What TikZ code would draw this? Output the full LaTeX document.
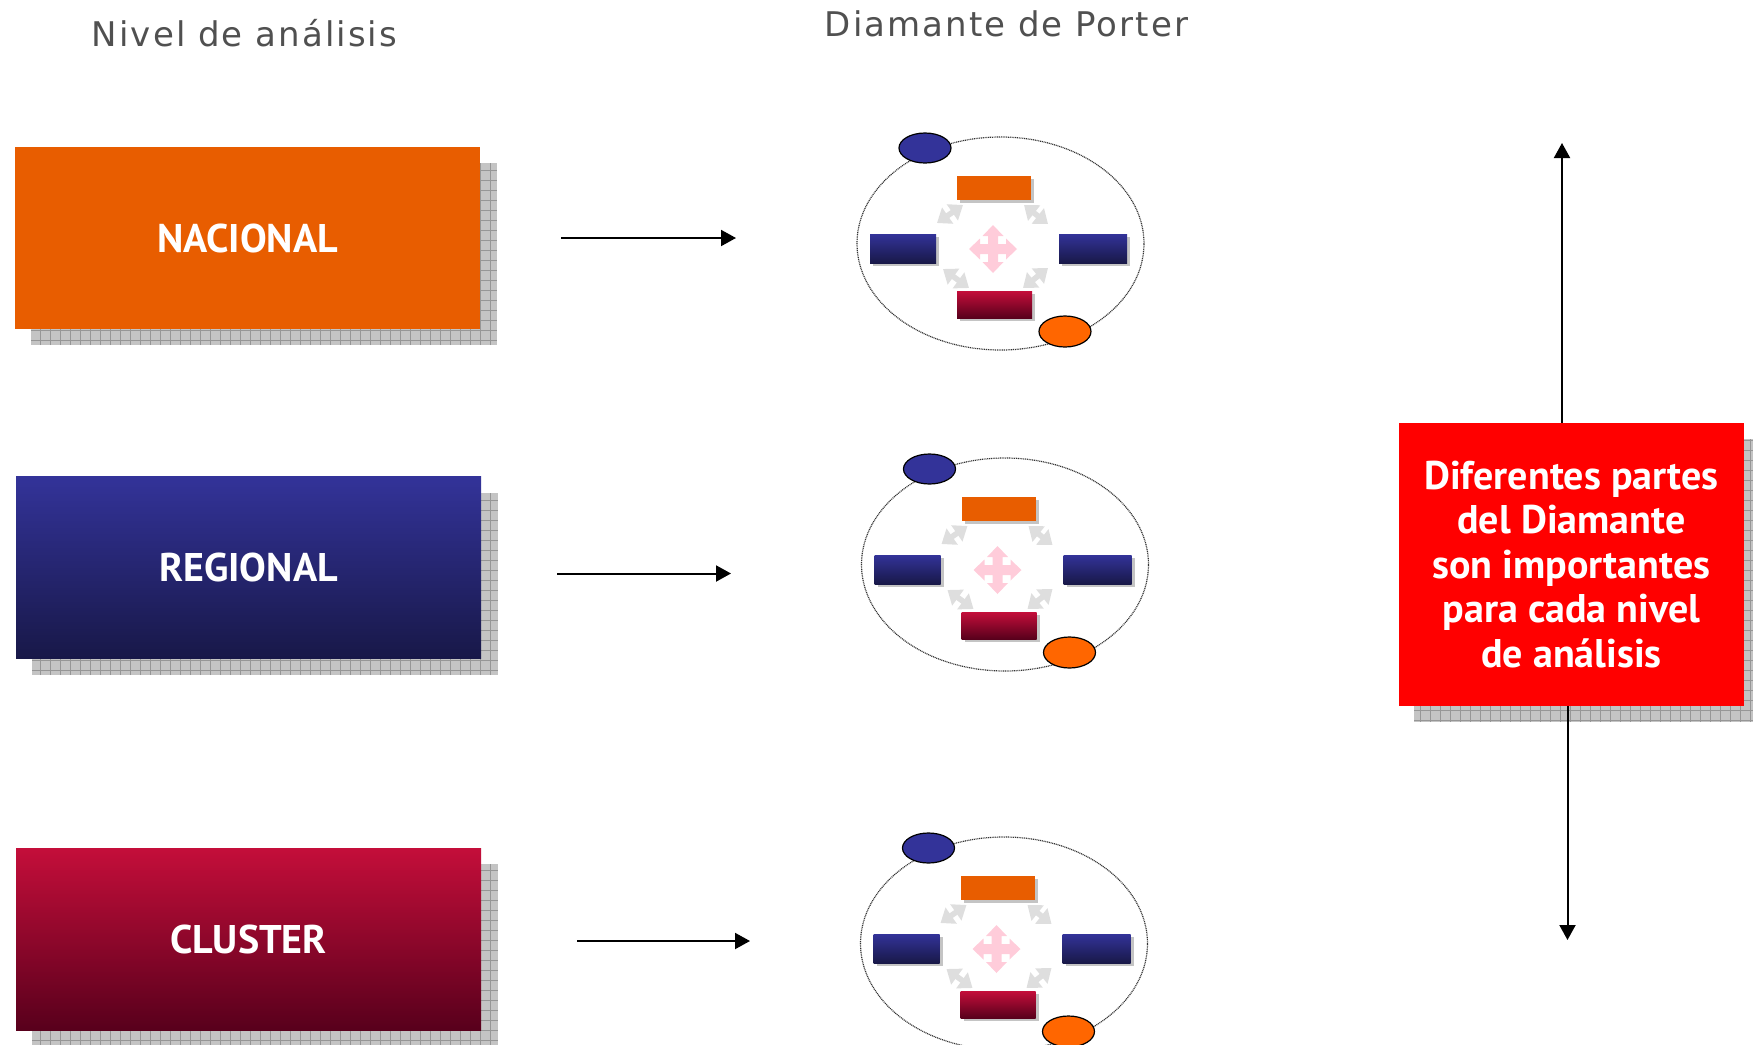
\documentclass[tikz,border=0pt]{standalone}
\usepackage{fontspec}
\setmainfont{PT Sans}
\newfontfamily\titlefont[LetterSpace=6]{DejaVu Sans}
\usetikzlibrary{arrows.meta,shapes.geometric}
\definecolor{orangeN}{RGB}{232,93,0}
\definecolor{orangeE}{RGB}{255,102,0}
\definecolor{blueT}{RGB}{51,51,153}
\definecolor{blueM}{RGB}{40,40,118}
\definecolor{blueB}{RGB}{24,24,72}
\definecolor{redT}{RGB}{196,14,58}
\definecolor{redM}{RGB}{165,0,50}
\definecolor{redB}{RGB}{88,0,28}
\definecolor{titlegray}{RGB}{80,80,80}
\definecolor{shadowfill}{RGB}{196,196,196}
\definecolor{shadowgrid}{RGB}{150,150,150}
\definecolor{pinkc}{RGB}{255,204,218}
\definecolor{lightarrow}{RGB}{222,222,222}
\definecolor{boxred}{RGB}{255,0,0}
\tikzset{
  bigbox/.style={inner sep=0pt, minimum width=232.5pt, minimum height=91pt,
    text=white, font=\bfseries\fontsize{20}{24}\selectfont},
  titletext/.style={text=titlegray, font=\titlefont\fontsize{17}{20}\selectfont, anchor=base, inner sep=0pt},
  conn/.style={line width=1pt, -{Triangle[length=7.5pt,width=8pt]}},
  smallrect/.style={inner sep=0pt, minimum width=#1, minimum height=13pt},
  graydbl/.style={line width=2.8pt, draw=lightarrow,
    {Triangle[length=6.5pt,width=9.5pt]}-{Triangle[length=6.5pt,width=9.5pt]}},
  porter/.pic={
    \node[ellipse, draw=black!80, line width=0.6pt, dash pattern=on 0.5pt off 0.4pt,
      minimum width=143.5pt, minimum height=106.5pt, inner sep=0pt] (-big) at (0,0) {};
    % small rect shadows
    \fill[shadowfill] (-40.5,-64.5) rectangle (33.5,-40.5);
    \fill[shadowfill] (-127.5,-6.5) rectangle (-61.5,22.5);
    \fill[shadowfill] (61.5,-6.5) rectangle (129.5,22.5);
    \fill[shadowfill] (-40.5,50.5) rectangle (34.5,77.5);
    \node[smallrect=37pt, minimum height=12pt, fill=orangeN] (-top) at (-6.5,-55.5) {};
    \node[smallrect=33pt, minimum height=14.5pt, top color=blueT, bottom color=blueB] (-left) at (-97.5,5) {};
    \node[smallrect=34pt, minimum height=14.5pt, top color=blueT, bottom color=blueB] (-right) at (92.5,5) {};
    \node[smallrect=37.5pt, minimum height=13.5pt, top color=redT, middle color=redM, bottom color=redB] (-bottom) at (-6,61) {};
    % centre cross
    \fill[pinkc, shift={(-7.5,5.5)}]
      (5,-5) -- (13,-5) -- (13,-10.5) -- (24,0) -- (13,10.5) -- (13,5) -- (5,5)
      -- (5,13) -- (10.5,13) -- (0,24) -- (-10.5,13) -- (-5,13) -- (-5,5)
      -- (-13,5) -- (-13,10.5) -- (-24,0) -- (-13,-10.5) -- (-13,-5) -- (-5,-5)
      -- (-5,-13) -- (-10.5,-13) -- (0,-24) -- (10.5,-13) -- (5,-13) -- cycle;
    % light double arrows
    \coordinate (-tl1) at (-63.5,-20.5); \coordinate (-tl2) at (-37.5,-38.5);
    \coordinate (-tr1) at (23.5,-38.5);  \coordinate (-tr2) at (47.5,-19.5);
    \coordinate (-bl1) at (-57.5,25.5);  \coordinate (-bl2) at (-31.5,44.5);
    \coordinate (-br1) at (47.5,24.5);   \coordinate (-br2) at (22.5,44.5);
    \draw[graydbl] (-tl1) -- (-tl2);
    \draw[graydbl] (-tr1) -- (-tr2);
    \draw[graydbl] (-bl1) -- (-bl2);
    \draw[graydbl] (-br1) -- (-br2);
    % small ellipses
    \node[ellipse, draw=black, line width=0.6pt, fill=blueT, minimum width=26pt, minimum height=15pt, inner sep=0pt] (-blue) at (-75.5,-95.5) {};
    \node[ellipse, draw=black, line width=0.6pt, fill=orangeE, minimum width=26pt, minimum height=15.5pt, inner sep=0pt] (-orange) at (64.5,88) {};
  }
}
\newcommand{\gridshadow}[4]{%
  \fill[shadowfill] (#1,#2) rectangle (#3,#4);
  \begin{scope}
    \clip (#1,#2) rectangle (#3,#4);
    \draw[shadowgrid, line width=0.4pt, step=5pt] (#1,#2) grid (#3,#4);
  \end{scope}}
\begin{document}
\begin{tikzpicture}[x=0.5pt,y=-0.5pt]
\useasboundingbox (0,0) rectangle (1753,1045);
\begin{scope}
\clip (0,0) rectangle (1753,1045);
% titles
\node[titletext] (t1) at (244.5,46) {Nivel de análisis};
\node[titletext] (t2) at (1006.5,36) {Diamante de Porter};

% left boxes
\gridshadow{31}{163}{497}{345}
\node[bigbox, fill=orangeN] (nac) at (247.5,238) {NACIONAL};
\gridshadow{32}{493}{498}{675}
\node[bigbox, top color=blueT, middle color=blueM, bottom color=blueB] (reg) at (248.5,567.5) {REGIONAL};
\gridshadow{32}{864}{498}{1046}
\node[bigbox, top color=redT, middle color=redM, bottom color=redB] (clu) at (248.5,939) {CLUSTER};

% diamonds
\pic (d1) at (1000.5,243.5) {porter};
\pic (d2) at (1005,564.5) {porter};
\pic (d3) at (1004,943.5) {porter};

% horizontal arrows
\coordinate (a1s) at (561,238);  \coordinate (a1e) at (736,238);
\coordinate (a2s) at (557,573.5); \coordinate (a2e) at (731,573.5);
\coordinate (a3s) at (577,941);  \coordinate (a3e) at (750,941);
\draw[conn] (a1s) -- (a1e);
\draw[conn] (a2s) -- (a2e);
\draw[conn] (a3s) -- (a3e);

% red box
\gridshadow{1414}{439}{1760}{722}
\node[fill=boxred, inner sep=0pt, minimum width=172.5pt, minimum height=141.5pt,
  text=white, align=center, font=\bfseries\fontsize{20}{22.25}\selectfont] (red) at (1571.5,564.5)
  {Diferentes partes\\del Diamante\\son importantes\\para cada nivel\\de análisis};
\coordinate (up) at (1562,143);
\coordinate (down) at (1567.5,940);
\draw[conn] (red.north -| up) -- (up);
\draw[conn] (red.south -| down) -- (down);
\end{scope}
\end{tikzpicture}
\end{document}
